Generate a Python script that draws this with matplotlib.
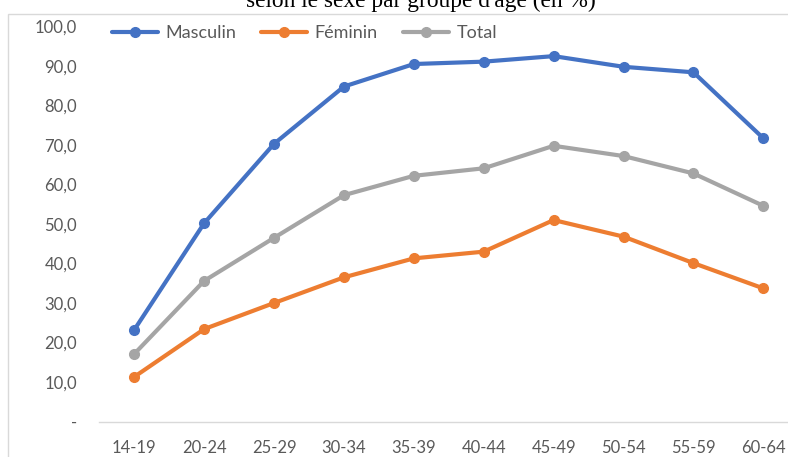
import matplotlib
matplotlib.use("Agg")
import matplotlib.pyplot as plt
from matplotlib.patches import Rectangle
from matplotlib.ticker import FuncFormatter

groupes = ["14-19", "20-24", "25-29", "30-34", "35-39",
           "40-44", "45-49", "50-54", "55-59", "60-64"]
masculin = [23.2, 50.2, 70.3, 84.8, 90.5, 91.1, 92.5, 89.8, 88.4, 71.7]
feminin = [11.3, 23.4, 30.0, 36.5, 41.3, 43.0, 51.0, 46.8, 40.1, 33.7]
total = [17.1, 35.6, 46.5, 57.3, 62.2, 64.1, 69.8, 67.2, 62.8, 54.6]

titre = "selon le sexe par groupe d'âge (en %)"

W, H = 788, 457
fig = plt.figure(figsize=(W / 100, H / 100), dpi=100)

# chart border (cropped on the right and bottom)
fig.patches.append(Rectangle((8 / W, -0.05), 1.0, 1 - 14 / H + 0.05,
                             transform=fig.transFigure, fill=False,
                             edgecolor="#d9d9d9", linewidth=1.0))

# title, cut off by the top edge as in the source
fig.text(421 / W, 1 - 7 / H, titre, ha="center", va="baseline",
         family="Liberation Serif", fontsize=16.8, color="black")

ax = fig.add_axes([99.3 / W, (H - 421.5) / H, 699 / W, 395 / H])
x = list(range(len(groupes)))
series = [("Masculin", masculin, "#4472C4"),
          ("Féminin", feminin, "#ED7D31"),
          ("Total", total, "#A5A5A5")]
for name, vals, col in series:
    ax.plot(x, vals, color=col, linewidth=3, marker="o", markersize=7,
            label=name, solid_capstyle="round")

ax.set_xlim(-0.5, len(groupes) - 0.5)
ax.set_ylim(0, 100)
ax.set_yticks(range(0, 101, 10))
ax.yaxis.set_major_formatter(FuncFormatter(
    lambda v, p: "-" if v == 0 else f"{v:.1f}".replace(".", ",")))
ax.set_xticks(x)
ax.set_xticklabels(groupes)

for s in ["top", "right", "left"]:
    ax.spines[s].set_visible(False)
ax.spines["bottom"].set_color("#d9d9d9")
ax.spines["bottom"].set_linewidth(1.0)
ax.tick_params(axis="both", length=0, labelsize=12, labelcolor="#595959")
ax.tick_params(axis="x", pad=13)
ax.tick_params(axis="y", pad=16)
for lab in ax.get_xticklabels() + ax.get_yticklabels():
    lab.set_family("Lato")

ax.legend(loc="center left", bbox_to_anchor=(112 / W, 1 - 33 / H),
          bbox_transform=fig.transFigure, ncol=3, frameon=False,
          prop={"family": "Lato", "size": 13}, labelcolor="#595959",
          handlelength=2.55, handletextpad=0.4, columnspacing=1.4,
          borderpad=0, borderaxespad=0)

fig.savefig("out.png", dpi=100)
